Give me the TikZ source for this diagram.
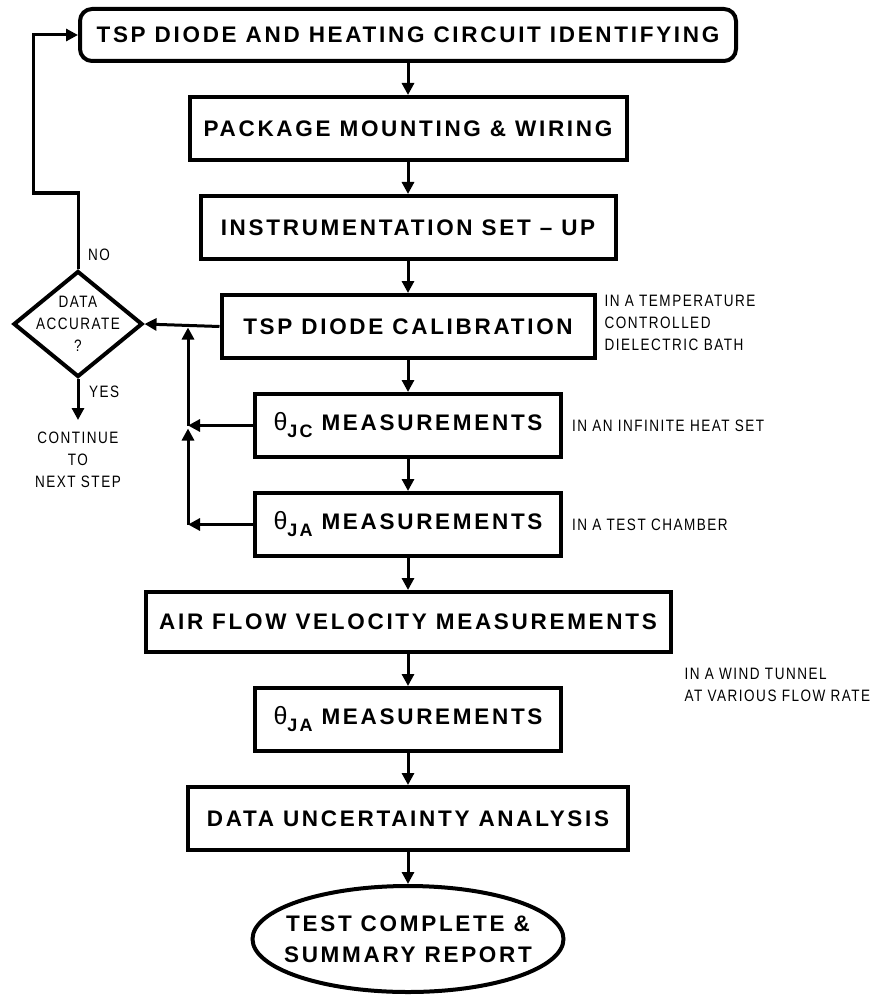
\documentclass[tikz,border=0pt]{standalone}
\usepackage{fontspec}
\setmainfont{Liberation Sans}
\newfontfamily\boxfam{Liberation Sans}[LetterSpace=12]
\newfontfamily\notefam{Liberation Sans}[FakeStretch=0.82, LetterSpace=9]
\newfontfamily\thetafam{Liberation Sans}
\newcommand\boxfont{\boxfam\bfseries\fontsize{22.5}{31}\selectfont}
\newcommand\notefont{\notefam\fontsize{16.5}{22}\selectfont}
\newcommand\thetasub[1]{{\thetafam\mdseries\fontsize{25}{25}\selectfont θ}\raisebox{-7pt}{\fontsize{18}{18}\selectfont #1}}
\usetikzlibrary{positioning,shapes.geometric,arrows.meta}

\begin{document}
\begin{tikzpicture}[x=1pt, y=-1pt, node distance=32pt, every node/.style={font=\boxfont}]
    \tikzstyle{box}=[draw, line width=4pt, align=center, inner sep=0pt, minimum height=63pt]
    \tikzstyle{note}=[font=\notefont, align=left, inner sep=0pt]
    \tikzstyle{arr}=[line width=3pt, -{Triangle[length=12pt, width=12pt]}]
    \useasboundingbox (0,0) rectangle (875,995);
    \node[box, rounded corners=12pt, minimum width=656pt, minimum height=52pt] (a) at (408,35) {TSP DIODE AND HEATING CIRCUIT IDENTIFYING};
    \node[box, minimum width=437pt, below=of a] (b) {PACKAGE MOUNTING \& WIRING};
    \node[box, minimum width=415pt, below=of b] (c) {INSTRUMENTATION SET – UP};
    \node[box, minimum width=373pt, below=of c] (d) {TSP DIODE CALIBRATION};
    \node[box, minimum width=306pt, below=of d] (e) {\thetasub{JC} MEASUREMENTS};
    \node[box, minimum width=306pt, below=of e] (f) {\thetasub{JA} MEASUREMENTS};
    \node[box, minimum width=525pt, minimum height=60pt, below=of f] (g) {AIR FLOW VELOCITY MEASUREMENTS};
    \node[box, minimum width=306pt, below=of g] (h) {\thetasub{JA} MEASUREMENTS};
    \node[box, minimum width=440pt, below=of h] (i) {DATA UNCERTAINTY ANALYSIS};
    \node[draw, ellipse, line width=4pt, align=center, inner sep=-40pt, minimum width=311pt, minimum height=106pt, below=of i] (j) {TEST COMPLETE \&\\SUMMARY REPORT};
    \draw[arr] (a) -- (b);
    \draw[arr] (b) -- (c);
    \draw[arr] (c) -- (d);
    \draw[arr] (d) -- (e);
    \draw[arr] (e) -- (f);
    \draw[arr] (f) -- (g);
    \draw[arr] (g) -- (h);
    \draw[arr] (h) -- (i);
    \draw[arr] (i) -- (j);
    % side remarks
    \node[note, anchor=west] (dn) at ([xshift=8pt, yshift=4pt]d.east) {IN A TEMPERATURE\\CONTROLLED\\DIELECTRIC BATH};
    \node[note, anchor=west] (en) at ([xshift=9pt]e.east) {IN AN INFINITE HEAT SET};
    \node[note, anchor=west] (fn) at ([xshift=9pt]f.east) {IN A TEST CHAMBER};
    \node[note, anchor=north west] (gn) at ([xshift=12pt, yshift=-14pt]g.south east) {IN A WIND TUNNEL\\AT VARIOUS FLOW RATE};
    % decision and feedback
    \node[draw, diamond, line width=4pt, align=center, inner sep=-25pt, minimum width=129pt, minimum height=106pt, font=\notefont] (dia) at (78,324) {DATA\\ACCURATE\\?};
    \node[note, anchor=west] (no) at ([xshift=10pt, yshift=14pt]dia.north) {NO};
    \node[note, anchor=west] (yes) at ([xshift=11pt, yshift=-13pt]dia.south) {YES};
    \node[note, align=center, anchor=north] (cont) at ([yshift=-53pt]dia.south) {CONTINUE\\TO\\NEXT STEP};
    \coordinate (nob) at (33,193);
    \coordinate (bx) at (188,0);
    \draw[arr] (dia.north) |- (nob) |- (a.west);
    \draw[arr, shorten >=12pt] (dia.south) -- (cont.north);
    \draw[arr] (d.west) -- (dia.east);
    \draw[arr] (e.west) -- (bx |- e.west);
    \draw[arr] (f.west) -- (bx |- f.west);
    \draw[arr, shorten >=3pt] (bx |- f.west) -- (bx |- e.west);
    \draw[arr, shorten >=1pt] (bx |- e.west) -- (bx |- d.west);
  \end{tikzpicture}
\end{document}
